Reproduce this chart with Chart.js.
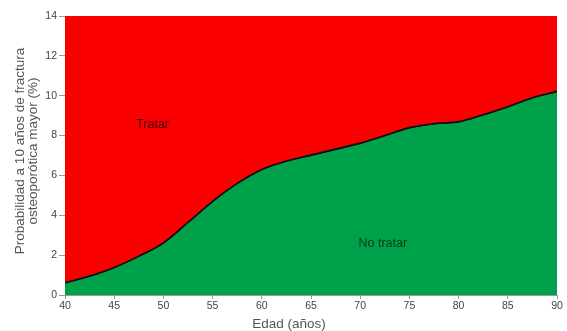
<!DOCTYPE html>
<html>
<head>
<meta charset="utf-8">
<script src="https://cdn.jsdelivr.net/npm/chart.js@4/dist/chart.umd.min.js"></script>
<style>
  html, body { margin: 0; padding: 0; background: #fff; }
  #wrap { width: 567px; height: 331px; position: relative; }
</style>
</head>
<body>
<div id="wrap"><canvas id="chart"></canvas></div>
<script>
// edad (años) and threshold probability
const ages = [40, 42.5, 45, 47.5, 50, 52.5, 55, 57.5, 60, 62.5, 65, 67.5, 70, 72.5, 75, 77.5, 80, 82.5, 85, 87.5, 90];
const threshold = [0.62, 0.95, 1.38, 1.95, 2.62, 3.65, 4.7, 5.6, 6.3, 6.72, 7.02, 7.32, 7.62, 8.0, 8.4, 8.6, 8.7, 9.05, 9.45, 9.9, 10.22];
const xTicks = [40, 45, 50, 55, 60, 65, 70, 75, 80, 85, 90];
const yTicks = [0, 2, 4, 6, 8, 10, 12, 14];
const xTitle = 'Edad (años)';
const yTitle = ['Probabilidad a 10 años de fractura', 'osteoporótica mayor (%)'];
const areaLabels = [
  { text: 'Tratar', x: 48.9, y: 8.53, color: '#3d0000' },
  { text: 'No tratar', x: 72.3, y: 2.56, color: '#083a17' },
];

const points = ages.map((a, i) => ({ x: a, y: threshold[i] }));

// area names inside the plot + axis titles placed like the original
const extraText = {
  id: 'extraText',
  afterDraw(chart) {
    const { ctx, scales } = chart;
    ctx.save();
    ctx.textAlign = 'center';
    ctx.textBaseline = 'middle';

    ctx.font = '12.5px "Liberation Sans", Arial, sans-serif';
    areaLabels.forEach((l) => {
      ctx.fillStyle = l.color;
      ctx.fillText(l.text, scales.x.getPixelForValue(l.x), scales.y.getPixelForValue(l.y));
    });

    ctx.fillStyle = '#555';
    ctx.font = '13.5px "Liberation Sans", Arial, sans-serif';
    ctx.fillText(xTitle, 289, 324);

    ctx.translate(0, 151);
    ctx.rotate(-Math.PI / 2);
    ctx.fillText(yTitle[0], 0, 20);
    ctx.fillText(yTitle[1], 0, 33);
    ctx.restore();
  },
};

Chart.defaults.font.family = '"Liberation Sans", Arial, sans-serif';

new Chart(document.getElementById('chart'), {
  type: 'line',
  data: {
    datasets: [
      {
        label: 'No tratar',
        data: points,
        borderColor: '#111',
        borderWidth: 1.6,
        backgroundColor: '#00a14b',
        fill: 'origin',
        pointRadius: 0,
        tension: 0.35,
        order: 2,
      },
      {
        label: 'Tratar',
        data: points,
        borderColor: '#111',
        borderWidth: 1.6,
        backgroundColor: '#fa0000',
        fill: 'end',
        pointRadius: 0,
        tension: 0.35,
        order: 1,
      },
    ],
  },
  options: {
    responsive: true,
    maintainAspectRatio: false,
    animation: false,
    layout: { padding: { top: 16, right: 10, left: 0, bottom: 0 } },
    plugins: { legend: { display: false }, tooltip: { enabled: false } },
    scales: {
      x: {
        type: 'linear',
        min: 40,
        max: 90,
        afterBuildTicks: (s) => { s.ticks = xTicks.map((v) => ({ value: v })); },
        afterFit: (s) => { s.height = 36; },
        ticks: { color: '#444', font: { size: 10.5 }, padding: 1, maxRotation: 0 },
        grid: { drawOnChartArea: false, tickLength: 4, color: '#999' },
        border: { color: '#999' },
      },
      y: {
        min: 0,
        max: 14,
        afterBuildTicks: (s) => { s.ticks = yTicks.map((v) => ({ value: v })); },
        afterFit: (s) => { s.width = 65; },
        ticks: { color: '#444', font: { size: 10.5 }, padding: 2 },
        grid: { drawOnChartArea: false, tickLength: 6, color: '#999' },
        border: { color: '#999' },
      },
    },
  },
  plugins: [extraText],
});
</script>
</body>
</html>
